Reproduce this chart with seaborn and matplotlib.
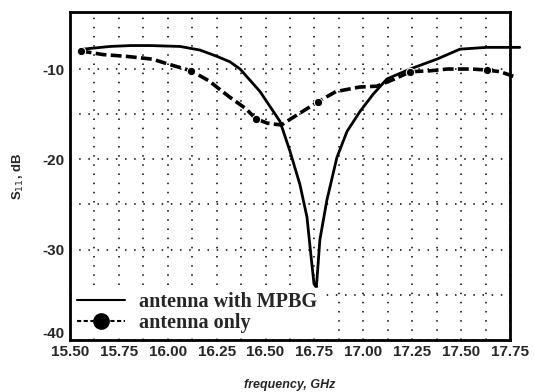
import numpy as np
import pandas as pd
import matplotlib
matplotlib.use('Agg')
import matplotlib.pyplot as plt
from matplotlib.lines import Line2D
from matplotlib.ticker import MultipleLocator, FixedLocator
from matplotlib.transforms import ScaledTranslation
import seaborn as sns

# S11 of the antenna with MPBG (solid)
freq_mpbg = [15.566, 15.705, 15.81, 15.909, 16.063, 16.165, 16.252, 16.318, 16.37,
             16.472, 16.574, 16.625, 16.676, 16.712, 16.733, 16.748, 16.76, 16.778,
             16.814, 16.865, 16.917, 16.983, 17.05, 17.121, 17.239, 17.377, 17.494,
             17.632, 17.80]
s11_mpbg = [-7.8, -7.5, -7.4, -7.4, -7.5, -7.9, -8.6, -9.2, -10.0,
            -12.5, -15.8, -19.1, -22.8, -26.4, -30.8, -33.8, -34.2, -28.9,
            -24.5, -19.8, -16.9, -14.7, -12.8, -11.1, -10.0, -8.9, -7.8,
            -7.6, -7.6]

# S11 of the antenna only (dashed with dots)
freq_only = [15.555, 15.67, 15.79, 15.92, 16.01, 16.12, 16.21, 16.31, 16.40, 16.45,
             16.51, 16.58, 16.66, 16.77, 16.86, 16.98, 17.07, 17.16, 17.24, 17.34,
             17.43, 17.55, 17.63, 17.70, 17.78]
s11_only = [-8.0, -8.4, -8.6, -8.9, -9.5, -10.2, -11.3, -13.0, -14.4, -15.5,
            -16.0, -16.2, -15.1, -13.6, -12.5, -12.0, -11.9, -11.1, -10.3, -10.2,
            -10.0, -10.0, -10.1, -10.3, -10.9]
dot_idx = [0, 5, 9, 13, 18, 22]

labels = ['antenna with MPBG', 'antenna only']
xticks = [15.50, 15.75, 16.00, 16.25, 16.50, 16.75, 17.00, 17.25, 17.50, 17.75]
yticks = [-10, -20, -30, -40]

sns.set_style('white')
plt.rcParams['font.family'] = ['Liberation Sans', 'DejaVu Sans']

df_mpbg = pd.DataFrame({'f': freq_mpbg, 's11': s11_mpbg})
df_only = pd.DataFrame({'f': freq_only, 's11': s11_only})

fig = plt.figure(figsize=(5.34, 3.92), dpi=100, facecolor='white')
ax = fig.add_axes([0.131, 0.133, 0.824, 0.836])

sns.lineplot(data=df_mpbg, x='f', y='s11', ax=ax, color='black', lw=2.0,
             sort=False, estimator=None, clip_on=False, zorder=3)
sns.lineplot(data=df_only, x='f', y='s11', ax=ax, color='black', lw=2.6,
             linestyle=(0, (3, 1.2)), marker='o', markersize=6, markevery=dot_idx,
             sort=False, estimator=None, clip_on=False, zorder=3)

ax.set_xlim(15.5, 17.75)
ax.set_ylim(-40, -3.7)
ax.xaxis.set_major_locator(FixedLocator(xticks))
ax.xaxis.set_minor_locator(MultipleLocator(0.125))
ax.yaxis.set_major_locator(FixedLocator(yticks))
ax.yaxis.set_minor_locator(FixedLocator([-15, -25, -35]))
ax.set_xticklabels(['%.2f' % t for t in xticks], fontsize=11, fontweight='bold')
ax.set_yticklabels(['%d' % t for t in yticks], fontsize=11, fontweight='bold')
ax.tick_params(which='both', length=0)
ax.tick_params(axis='x', pad=4)
ax.tick_params(axis='y', pad=4)

# lift the -40 label a little so it clears 15.50
lbl = ax.get_yticklabels()[-1]
lbl.set_transform(lbl.get_transform() + ScaledTranslation(0, 5 / 72, fig.dpi_scale_trans))

ax.grid(True, which='both', color='black', linestyle=(0, (1, 5)), lw=1.1)

for s in ax.spines.values():
    s.set_color('black')
    s.set_linewidth(2)

ax.set_xlabel('frequency, GHz', fontsize=9, fontweight='bold', style='italic', labelpad=14)
ax.set_ylabel('S$_{11}$, dB', fontsize=9.5, fontweight='bold', labelpad=12)

handles = [Line2D([], [], color='black', lw=1.5),
           Line2D([], [], color='black', lw=1.5, linestyle=(0, (2, 1.2)),
                  marker='o', markersize=11)]
leg = ax.legend(handles, labels, loc='lower left', frameon=True, fancybox=False,
                facecolor='white', edgecolor='white', framealpha=1,
                prop={'family': 'Liberation Serif', 'size': 14.5, 'weight': 'bold'},
                handlelength=2.4, handletextpad=0.7, labelspacing=0.05,
                borderpad=0.2, borderaxespad=0.15)
leg.set_zorder(5)

fig.savefig('out.png', dpi=100, facecolor='white')
